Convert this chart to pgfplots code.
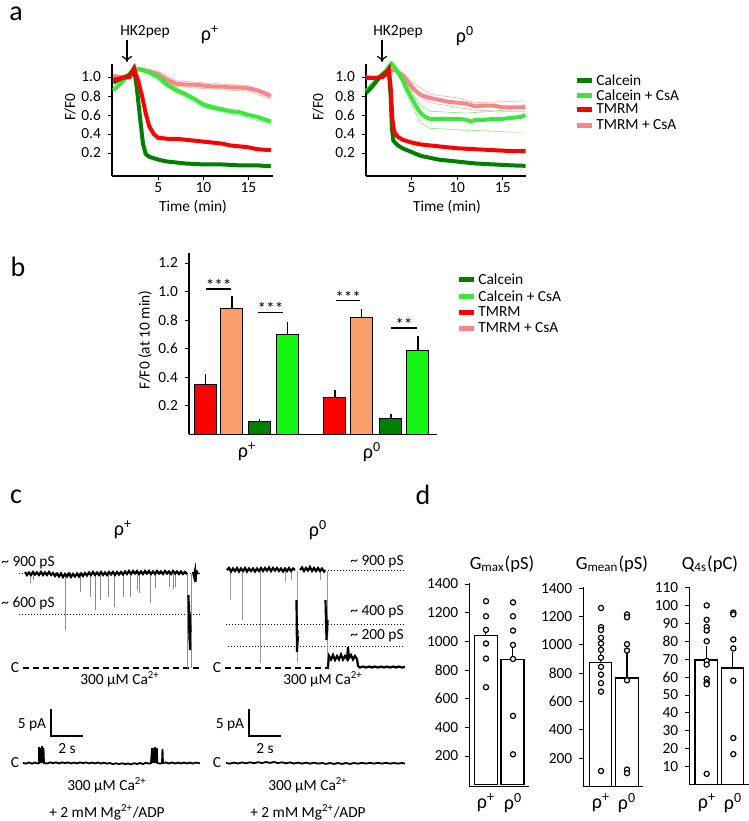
\documentclass[border=0pt]{standalone}
\usepackage{fontspec}
\setmainfont{Carlito}
\usepackage{pgfplots}
\pgfplotsset{compat=1.18}
\usetikzlibrary{arrows.meta}
\definecolor{cdk}{RGB}{0,128,0}
\definecolor{clt}{RGB}{60,230,60}
\definecolor{tmr}{RGB}{255,0,0}
\definecolor{tpk}{RGB}{245,135,135}
\definecolor{bor}{RGB}{250,158,108}
\definecolor{blt}{RGB}{20,245,20}
\newcommand{\fs}[1]{\fontsize{#1}{#1}\selectfont}
\pgfplotsset{
  base/.style={scale only axis, clip=false, axis lines=left, axis line style={-, line width=0.6pt},
    tick style={black, line width=0.5pt}, tick align=outside, major tick length=2pt,
    ticklabel style={font=\fs{7.7}}, /pgf/number format/assume math mode=true,
    /pgf/number format/1000 sep={}},
  onedec/.style={yticklabel style={/pgf/number format/.cd, fixed, fixed zerofill, precision=1}},
  ebar/.style={error bars/.cd, y dir=plus, y explicit, error mark=none,
    error bar style={black, line width=0.6pt}},
  dots/.style={only marks, mark=*, mark size=1.3pt, mark options={fill=white, draw=black, line width=0.6pt}},
}
\begin{document}
\begin{tikzpicture}
\path[use as bounding box] (0,0) rectangle (374.5pt,-410.5pt);
\begin{scope}[x=0.5pt,y=-0.5pt]
 \coordinate (aL) at (112,176);
 \coordinate (aR) at (366,176);
 \coordinate (bB) at (189,434.3);
 \coordinate (cC) at (0,540);
 \coordinate (d1) at (469.3,786.7);
 \coordinate (d2) at (583.3,786.6);
 \coordinate (d3) at (689.3,784.6);
 % panel letters
 \node[font=\fs{14}, inner sep=0pt] at (16,14) {a};
 \node[font=\fs{14}, inner sep=0pt] at (18,267) {b};
 \node[font=\fs{14}, inner sep=0pt] at (16,497) {c};
 \node[font=\fs{14}, inner sep=0pt] at (423,495) {d};
 % panel a annotations
 \node[font=\fs{7.7}] at (145,32) {HK2pep};
 \node[font=\fs{7.7}] at (398,32) {HK2pep};
 \draw[line width=0.6pt, -{To[length=3pt,width=5pt]}] (127,40) -- (127,62);
 \draw[line width=0.6pt, -{To[length=3pt,width=5pt]}] (382,40) -- (382,62);
 \node[font=\fs{10}] at (210,35) {ρ\textsuperscript{+}};
 \node[font=\fs{10}] at (465,36) {ρ\textsuperscript{0}};
 \node[font=\fs{7.7}, rotate=90] at (70,107) {F/F0};
 \node[font=\fs{7.7}, rotate=90] at (318,107) {F/F0};
 \node[font=\fs{7.7}] at (193,207) {Time (min)};
 \node[font=\fs{7.7}] at (447,207) {Time (min)};
 % legend a
 \foreach \c/\t/\yy in {cdk/Calcein/80, clt/Calcein + CsA/95, tmr/TMRM/109, tpk/TMRM + CsA/125}{
   \draw[\c, line width=2.5pt] (577,\yy) -- (592,\yy);
   \node[font=\fs{7.7}, anchor=west, inner sep=0pt] at (596,\yy) {\t};
 }
 % panel b annotations
 \node[font=\fs{7.7}, rotate=90] at (145,340) {F/F0 (at 10 min)};
 \node[font=\fs{10}] at (247,452) {ρ\textsuperscript{+}};
 \node[font=\fs{10}] at (372,452) {ρ\textsuperscript{0}};
 \foreach \c/\t/\yy in {cdk/Calcein/279, clt/Calcein + CsA/296, tmr/TMRM/312, tpk/TMRM + CsA/328}{
   \draw[\c, line width=2.5pt] (459,\yy) -- (474,\yy);
   \node[font=\fs{7.7}, anchor=west, inner sep=0pt] at (478,\yy) {\t};
 }
 % panel c annotations
 \node[font=\fs{10}] at (123,530) {ρ\textsuperscript{+}};
 \node[font=\fs{10}] at (318,530) {ρ\textsuperscript{0}};
 \node[font=\fs{7.7}] at (28,563) {\textasciitilde\ 900 pS};
 \node[font=\fs{7.7}] at (28,604) {\textasciitilde\ 600 pS};
 \node[font=\fs{7.7}] at (377,562) {\textasciitilde\ 900 pS};
 \node[font=\fs{7.7}] at (377,612) {\textasciitilde\ 400 pS};
 \node[font=\fs{7.7}] at (377,636) {\textasciitilde\ 200 pS};
 \node[font=\fs{7.7}] at (15,668) {C};
 \node[font=\fs{7.7}] at (217,668) {C};
 \node[font=\fs{7.7}] at (120,679) {300 µM Ca\textsuperscript{2+}};
 \node[font=\fs{7.7}] at (323,679) {300 µM Ca\textsuperscript{2+}};
 \node[font=\fs{7.7}] at (32,725) {5 pA};
 \node[font=\fs{7.7}] at (67,749) {2 s};
 \node[font=\fs{7.7}] at (230,725) {5 pA};
 \node[font=\fs{7.7}] at (265,749) {2 s};
 \draw[line width=0.6pt] (51,709) -- (51,736) -- (83,736);
 \draw[line width=0.6pt] (249,709) -- (249,736) -- (281,736);
 \node[font=\fs{7.7}] at (15,763) {C};
 \node[font=\fs{7.7}] at (217,763) {C};
 \node[font=\fs{7.7}] at (107,785) {300 µM Ca\textsuperscript{2+}};
 \node[font=\fs{7.7}] at (308,785) {300 µM Ca\textsuperscript{2+}};
 \node[font=\fs{7.7}] at (107,812) {+ 2 mM Mg\textsuperscript{2+}/ADP};
 \node[font=\fs{7.7}] at (308,812) {+ 2 mM Mg\textsuperscript{2+}/ADP};
 % panel d annotations
 \node[font=\fs{9.3}] at (502,564) {G\textsubscript{max}(pS)};
 \node[font=\fs{9.3}] at (612,564) {G\textsubscript{mean}(pS)};
 \node[font=\fs{9.3}] at (710,564) {Q\textsubscript{4s}(pC)};
 \foreach \xx/\t in {486/+, 513/0, 601/+, 627/0, 707/+, 733/0}{
   \node[font=\fs{10}] at (\xx,803) {ρ\textsuperscript{\t}};
 }
\end{scope}

% ---------- panel a, rho+ ----------
\begin{axis}[base, onedec, at={(aL)}, anchor=south west, width=80.5pt, height=56pt,
  xmin=-0.14, xmax=17.74, ymin=-0.042, ymax=1.137,
  xtick={5,10,15}, ytick={0.2,0.4,0.6,0.8,1.0}, xticklabel style={inner sep=1pt}]
\addplot[tpk, line width=0.3pt, opacity=0.7] coordinates {(3,1.10)(5,1.06)(7,0.96)(10,0.94)(13,0.92)(15,0.91)(17.5,0.83)};
\addplot[tpk, line width=0.3pt, opacity=0.7] coordinates {(3,1.06)(5,1.00)(7,0.90)(10,0.88)(13,0.86)(15,0.85)(17.5,0.77)};
\addplot[clt, line width=0.3pt, opacity=0.7] coordinates {(4,1.06)(6,0.94)(8,0.84)(10,0.73)(13,0.66)(15,0.62)(17.5,0.55)};
\addplot[clt, line width=0.3pt, opacity=0.7] coordinates {(4,1.03)(6,0.89)(8,0.79)(10,0.68)(13,0.61)(15,0.57)(17.5,0.50)};
\addplot[tpk, line width=2pt] coordinates {(0,1.01)(1,1.00)(1.8,1.00)(2.4,1.08)(3,1.08)(4,1.06)(5,1.03)(6,0.97)(7,0.93)(8,0.92)(9,0.92)(10,0.91)(11,0.90)(12,0.90)(13,0.89)(14,0.89)(15,0.88)(16,0.86)(17.5,0.80)};
\addplot[clt, line width=2pt] coordinates {(0,0.86)(0.8,0.93)(1.5,1.0)(2.3,1.08)(3,1.08)(4,1.05)(5,1.0)(6,0.92)(7,0.86)(8,0.82)(9,0.77)(10,0.71)(11,0.68)(12,0.66)(13,0.64)(14,0.63)(15,0.60)(16,0.58)(17.5,0.53)};
\addplot[cdk, line width=2pt] coordinates {(0,0.94)(1,0.99)(1.8,1.02)(2.3,1.09)(2.6,0.9)(3,0.55)(3.3,0.30)(3.6,0.19)(4,0.16)(5,0.13)(6,0.11)(7,0.10)(8,0.09)(10,0.08)(12,0.08)(14,0.07)(16,0.07)(17.5,0.06)};
\addplot[tmr, line width=2pt] coordinates {(0,0.97)(1,0.99)(1.8,1.0)(2.3,1.09)(2.8,0.95)(3.2,0.80)(3.6,0.62)(4,0.48)(4.5,0.40)(5,0.36)(6,0.35)(7,0.35)(8,0.34)(9,0.33)(10,0.32)(11,0.31)(12,0.30)(13,0.28)(14,0.27)(15,0.26)(16,0.24)(17.5,0.23)};
\end{axis}

% ---------- panel a, rho0 ----------
\begin{axis}[base, onedec, at={(aR)}, anchor=south west, width=80pt, height=56pt,
  xmin=0, xmax=17.55, ymin=-0.042, ymax=1.137,
  xtick={5,10,15}, ytick={0.2,0.4,0.6,0.8,1.0}, xticklabel style={inner sep=1pt}]
\addplot[tpk, line width=0.3pt, opacity=0.7] coordinates {(4,1.05)(5,0.95)(7,0.82)(10,0.78)(12,0.73)(15,0.74)(17.5,0.75)};
\addplot[tpk, line width=0.3pt, opacity=0.7] coordinates {(4,0.99)(5,0.86)(7,0.73)(10,0.68)(12,0.65)(15,0.64)(17.5,0.64)};
\addplot[clt, line width=0.3pt, opacity=0.7] coordinates {(4,1.02)(5,0.85)(6,0.70)(7,0.64)(9,0.63)(11,0.62)(14,0.64)(16,0.66)(17.5,0.72)};
\addplot[clt, line width=0.3pt, opacity=0.7] coordinates {(4,0.92)(5,0.70)(6,0.52)(7,0.46)(9,0.45)(11,0.44)(14,0.43)(16,0.42)(17.5,0.42)};
\addplot[tpk, line width=2pt] coordinates {(0,1.0)(1,0.99)(1.8,1.0)(2.3,1.03)(2.7,1.07)(3.3,1.07)(4,1.02)(4.5,0.96)(5,0.90)(5.5,0.85)(6,0.81)(7,0.78)(8,0.76)(9,0.74)(10,0.73)(11,0.72)(12,0.69)(13,0.70)(14,0.70)(15,0.68)(16,0.68)(17.5,0.68)};
\addplot[clt, line width=2pt] coordinates {(0,0.85)(0.7,0.92)(1.5,1.0)(2.2,1.07)(2.8,1.14)(3.3,1.08)(4,0.97)(4.5,0.87)(5,0.78)(5.5,0.69)(6,0.62)(6.5,0.58)(7,0.56)(8,0.56)(9,0.56)(10,0.56)(11,0.55)(11.5,0.53)(12,0.55)(13,0.55)(14,0.56)(15,0.56)(16,0.57)(17,0.58)(17.5,0.60)};
\addplot[cdk, line width=2pt] coordinates {(0,0.83)(0.7,0.90)(1.5,1.0)(2.2,1.05)(2.5,1.08)(2.7,0.80)(2.85,0.45)(3.0,0.33)(3.5,0.28)(4,0.25)(5,0.21)(6,0.17)(7,0.15)(8,0.13)(9,0.12)(10,0.11)(12,0.09)(14,0.08)(16,0.07)(17.5,0.065)};
\addplot[tmr, line width=2pt] coordinates {(0,0.99)(1,0.99)(1.8,1.00)(2.2,1.03)(2.5,1.08)(2.7,0.90)(2.9,0.55)(3.1,0.42)(3.5,0.37)(4,0.34)(5,0.31)(6,0.29)(7,0.28)(8,0.27)(9,0.26)(10,0.25)(12,0.24)(14,0.23)(16,0.22)(17.5,0.22)};
\end{axis}

% ---------- panel b ----------
\begin{axis}[base, onedec, at={(bB)}, anchor=south west, width=124pt, height=90.65pt,
  xmin=189, xmax=437, ymin=0, ymax=1.27, xtick=\empty,
  ytick={0.2,0.4,0.6,0.8,1.0,1.2}]
\addplot[ybar, bar width=22, bar shift=0pt, fill=tmr, draw=black, line width=0.5pt, ebar] coordinates {(205.5,0.35) +- (0,0.07) (335,0.26) +- (0,0.05)};
\addplot[ybar, bar width=22, bar shift=0pt, fill=bor, draw=black, line width=0.5pt, ebar] coordinates {(232,0.88) +- (0,0.09) (361.4,0.82) +- (0,0.06)};
\addplot[ybar, bar width=22, bar shift=0pt, fill=cdk, draw=black, line width=0.5pt, ebar] coordinates {(259.7,0.09) +- (0,0.02) (391,0.11) +- (0,0.03)};
\addplot[ybar, bar width=22, bar shift=0pt, fill=blt, draw=black, line width=0.5pt, ebar] coordinates {(287.2,0.70) +- (0,0.09) (418,0.59) +- (0,0.10)};
\draw[line width=0.6pt] (axis cs:206,1.018) -- (axis cs:231.5,1.018);
\draw[line width=0.6pt] (axis cs:258,0.856) -- (axis cs:283,0.856);
\draw[line width=0.6pt] (axis cs:336,0.936) -- (axis cs:360.5,0.936);
\draw[line width=0.6pt] (axis cs:391,0.745) -- (axis cs:417,0.745);
\node[font=\fs{8.6}, anchor=base, inner sep=0pt] at (axis cs:218.7,1.0) {***};
\node[font=\fs{8.6}, anchor=base, inner sep=0pt] at (axis cs:270.5,0.838) {***};
\node[font=\fs{8.6}, anchor=base, inner sep=0pt] at (axis cs:348.2,0.918) {***};
\node[font=\fs{8.6}, anchor=base, inner sep=0pt] at (axis cs:404,0.727) {**};
\end{axis}

% ---------- panel c traces ----------
\begin{axis}[scale only axis, hide axis, clip=false, at={(cC)}, anchor=north west,
  width=205pt, height=120pt, xmin=0, xmax=410, ymin=540, ymax=780, y dir=reverse,
  unbounded coords=jump]
% reference levels
\addplot[black, line width=0.5pt, densely dotted] coordinates {(19,573)(202,573)};
\addplot[black, line width=0.5pt, densely dotted] coordinates {(19,614)(202,614)};
\addplot[black, line width=0.5pt, densely dotted] coordinates {(325,570)(405,570)};
\addplot[black, line width=0.5pt, densely dotted] coordinates {(226,624)(405,624)};
\addplot[black, line width=0.5pt, densely dotted] coordinates {(228,646)(405,646)};
\addplot[black, line width=0.6pt, dash pattern=on 3pt off 2pt] coordinates {(23,668)(200,668)};
\addplot[black, line width=0.6pt, dash pattern=on 3pt off 2pt] coordinates {(225,668)(329,668)};
% gray spikes rho+
\addplot[black!45, line width=0.4pt] coordinates {(30,574)(30,583)(30,nan)(33,574)(33,580)(33,nan)(65,574)(65,630)(65,nan)(80,574)(80,592)(80,nan)(90,574)(90,597)(90,nan)(95,574)(95,610)(95,nan)(100,574)(100,600)(100,nan)(108,574)(108,597)(108,nan)(114,574)(114,607)(114,nan)(123,574)(123,597)(123,nan)(130,574)(130,597)(130,nan)(137,574)(137,590)(137,nan)(139,574)(139,593)(139,nan)(150,574)(150,603)(150,nan)(155,574)(155,588)(155,nan)(169,574)(169,587)(169,nan)(173,574)(173,589)(173,nan)(175,574)(175,587)(175,nan)(187.5,574)(187.5,668)(187.5,nan)(191,574)(191,668)};
% gray spikes rho0
\addplot[black!40, line width=0.4pt] coordinates {(230,571)(230,600)(230,nan)(242,571)(242,620)(242,nan)(260,571)(260,663)(260,nan)(285,571)(285,582)(285,nan)(291,571)(291,580)(291,nan)(297,571)(297,662)(297,nan)(320,571)(320,580)(320,nan)(327,571)(327,667)};
% rho+ top trace
\addplot[black, line width=1.1pt] coordinates {(25,572)(27,575)(29,572.5)(31,575)(33,572)(35,574.5)(37,572.5)(39,575)(41,572)(43,575)(45,572.5)(47,575)(49,572)(51,575)(53,573)(55,576)(57,573.5)(59,576.5)(61,573.5)(63,577)(65,574)(67,576.5)(69,573.5)(71,577)(73,574)(75,576.5)(77,573.5)(79,576.5)(81,573.5)(83,576)(85,573)(87,575.5)(89,572.5)(91,575)(93,572)(95,575)(97,572.5)(99,575)(101,572)(103,575)(105,572.5)(107,575)(109,572)(111,574.5)(113,572)(115,575)(117,572)(119,574.5)(121,572)(123,574.5)(125,571.5)(127,574)(129,571)(131,574)(133,571)(135,573.5)(137,571)(139,574)(141,571.5)(143,574)(145,571)(147,573.5)(149,571)(151,574)(153,571.5)(155,574)(157,571)(159,573.5)(161,571.5)(163,574)(165,571)(167,573.5)(169,571.5)(171,574)(173,571)(175,573.5)(177,571.5)(179,574)(181,571.5)(183,574)(185,572)(187,574)};
\addplot[black, line width=1.1pt] coordinates {(188.5,595)(189.5,640)(189,605)(190,650)(189.5,612)(190.5,632)};
\addplot[black, line width=1.1pt] coordinates {(193,572)(194,576)(195,571)(195.5,582)(196,574)(197,572)(198,574)};
% rho0 top trace
\addplot[black, line width=1.1pt] coordinates {(227,570)(229,568)(231,571.5)(233,568.5)(235,571)(237,568)(239,571.5)(241,568.5)(243,571)(245,568)(247,571.5)(249,568.5)(251,571)(253,568.5)(255,571.5)(257,568.5)(259,571)(261,568)(263,571)(265,568)(267,570.5)(269,567.5)(271,571)(273,568)(275,570.5)(277,568)(279,571)(281,568.5)(283,571.5)(285,568.5)(287,571)(289,568)(291,571)(293,568.5)(295,570)(295,nan)(300,570)(302,567.5)(304,571)(306,568)(308,570.5)(310,567)(312,571)(314,568)(316,571)(318,568)(320,571)(322,568.5)(324,571.5)(325,570)};
\addplot[black, line width=1.1pt] coordinates {(296.5,600)(297,652)(297.5,630)(297,650)(298,636)};
\addplot[black, line width=1.1pt] coordinates {(325.5,600)(326.5,640)(326,612)(327,636)(327.5,620)};
\addplot[black, line width=1.1pt] coordinates {(328,667)(329,656)(331,659.5)(333,655)(335,660)(337,656)(339,659.5)(341,654.5)(343,659.5)(345,656)(347,659)(348,647)(349,658)(351,655)(353,659.5)(355,656)(357,659)(358,666)(360,667.5)(363,666.5)(366,667.5)(369,666.5)(372,667.5)(375,666.5)(378,667.5)(381,666.5)(384,667.5)(387,666.5)(390,667.5)(393,666.5)(396,667.5)(399,666.5)(402,667.5)(405,667)};
% bottom traces
\addplot[black, line width=0.9pt] coordinates {(23,763)(26,763.6)(29,762.5)(32,763.6)(35,762.6)(38,763.5)(39,763)(39,747)(39.6,763)(40.6,748)(41.2,763)(42.2,746)(42.8,763)(43.5,748)(44,763)(47,763.5)(50,762.4)(53,763.2)(56,762.4)(59,763.4)(62,762.4)(65,763.2)(68,762.4)(71,763.4)(74,762.6)(77,763.4)(80,762.4)(83,763.2)(86,762.4)(89,763.4)(92,762.6)(95,763.4)(98,762.5)(101,763.5)(104,762.7)(107,763.6)(110,763)(113,764.2)(116,763.2)(119,764.2)(122,763.2)(125,764.2)(128,763.5)(131,764.3)(134,763.2)(137,764)(140,763)(143,764)(146,762.8)(149,763.6)(151,763)(152,748)(152.6,763)(153.6,748)(154.2,763)(155.2,747)(155.8,763)(156.8,748)(157.4,763)(160,763.6)(162,763)(162.5,749)(163,763)(166,762.5)(169,763.5)(172,762.5)(175,763.5)(178,762.6)(181,763.5)(184,762.5)(187,763.5)(190,762.6)(193,763.5)(196,762.6)(200,763.3)};
\addplot[black, line width=0.9pt] coordinates {(226,763)(230,763.6)(234,762.6)(238,763.5)(242,762.4)(246,763.3)(250,762.3)(254,763.2)(258,762.2)(262,763)(266,762)(270,762.9)(274,762)(278,763)(282,762.3)(286,763.3)(290,762.4)(294,763.5)(298,762.6)(302,763.6)(306,762.7)(310,763.6)(314,762.7)(318,763.6)(322,763)(326,763.9)(330,763)(334,763.9)(338,763)(342,763.9)(346,763)(350,763.9)(354,763)(358,763.7)(362,762.8)(366,763.6)(370,762.8)(374,763.6)(378,762.8)(382,763.6)(386,762.8)(390,763.6)(394,763)(398,763.6)(402,763)(405,763.5)};
\end{axis}

% ---------- panel d ----------
\begin{axis}[base, at={(d1)}, anchor=south west, width=30pt, height=101.85pt,
  xmin=469.3, xmax=529.3, ymin=-14, ymax=1407, xtick=\empty,
  ytick={200,400,...,1400}]
\addplot[ybar, bar width=23, bar shift=0pt, fill=white, draw=black, line width=0.7pt, ebar] coordinates {(485.8,1040) +- (0,40) (512.5,875) +- (0,110)};
\addplot[dots] coordinates {(486,1280)(486,1175)(486,1080)(486,985)(486,880)(486,680)};
\addplot[dots] coordinates {(513,1272)(513,1175)(513,1075)(513,975)(513,877)(513,480)(513,212)};
\end{axis}
\begin{axis}[base, at={(d2)}, anchor=south west, width=30pt, height=100pt,
  xmin=583.3, xmax=643.3, ymin=0, ymax=1411, xtick=\empty,
  ytick={200,400,...,1400}]
\addplot[ybar, bar width=22.5, bar shift=0pt, fill=white, draw=black, line width=0.7pt, ebar] coordinates {(600.5,875) +- (0,130) (627,765) +- (0,185)};
\addplot[dots] coordinates {(601,1260)(601,1125)(601,1105)(601,1050)(601,1010)(601,965)(601,910)(601,845)(601,790)(601,730)(601,670)(601,110)};
\addplot[dots] coordinates {(627,1215)(627,1195)(627,1005)(627,960)(627,750)(627,120)(627,95)};
\end{axis}
\begin{axis}[base, at={(d3)}, anchor=south west, width=29.6pt, height=99pt,
  xmin=689.3, xmax=748.5, ymin=0, ymax=110.5, xtick=\empty,
  ytick={10,20,...,110}]
\addplot[ybar, bar width=22.3, bar shift=0pt, fill=white, draw=black, line width=0.7pt, ebar] coordinates {(706.2,69.5) +- (0,8) (732.5,65) +- (0,9)};
\addplot[dots] coordinates {(706.7,100)(706.7,92)(706.7,88)(706.7,86)(706.7,80)(706.7,69)(706.7,67)(706.7,59)(706.7,57)(706.7,56)(706.7,6)};
\addplot[dots] coordinates {(733.3,96)(733.3,95)(733.3,81)(733.3,76)(733.3,58)(733.3,26)(733.3,17)};
\end{axis}
\end{tikzpicture}
\end{document}
